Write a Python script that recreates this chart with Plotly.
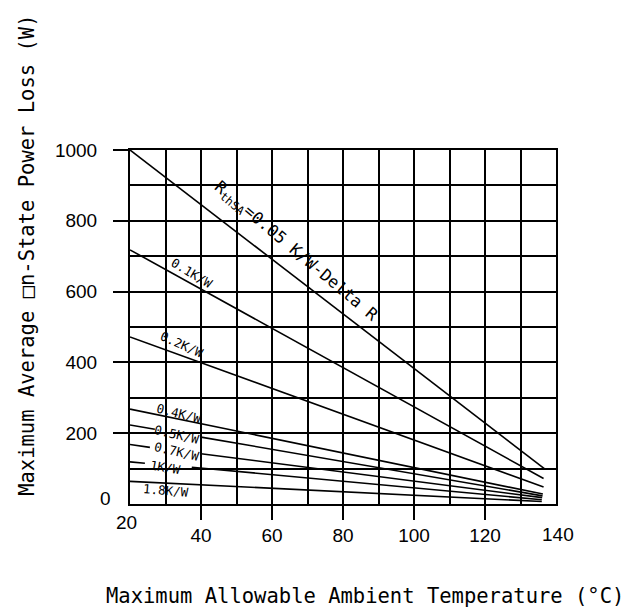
import plotly.graph_objects as go

# ---------------- data ----------------
series_names = ["0.05", "0.1", "0.2", "0.4", "0.5", "0.7", "1", "1.8"]
start_temp = [20, 20, 20, 20, 20, 20, 20, 20]
start_power = [1000, 718, 472, 268, 223, 168, 119, 64]
end_temp = [136.8, 136.5, 136.5, 136.3, 136.2, 136.1, 136.0, 136.0]
end_power = [99, 72, 48, 28, 23, 18, 12, 7]

# gaps left in the lines where labels sit (series index -> (t0, p0, t1, p1))
gap_series = [4, 5, 6]
gap_t0 = [27.0, 25.6, 24.2]
gap_p0 = [211, 160, 115]
gap_t1 = [40.0, 40.0, 37.4]
gap_p1 = [189, 142, 104]

label_texts = ["R<sub>thSA</sub>=0.05 K/W-Delta R", "0.1K/W", "0.2K/W", "0.4K/W",
               "0.5K/W", "0.7K/W", "1K/W", "1.8K/W"]
label_temp = [66.6, 37.6, 34.6, 33.8, 33.2, 33.2, 30.1, 30.1]
label_power = [712, 652, 450, 255, 196, 149, 104, 38]
label_angle = [40, 31, 24, 14, 13, 13, 10, 5]
label_size = [16.5, 12.5, 12.5, 12.5, 12.5, 12.5, 12.5, 12.5]

x_ticks = [40, 60, 80, 100, 120]
y_ticks = [200, 400, 600, 800, 1000]

x_title = "Maximum Allowable Ambient Temperature (°C)"
y_title = "Maximum Average □n-State Power Loss (W)"

CAD = "DejaVu Sans Mono, monospace"
TICK = "Liberation Sans, Arial, sans-serif"

# page body has an 8px default margin; place the plot area at screen (130,150)-(555.7,504.3)
OFF = 8
PL, PT, PW, PH = 130 - OFF, 150 - OFF, 425.7, 354.3

fig = go.Figure()

for i, name in enumerate(series_names):
    if i in gap_series:
        g = gap_series.index(i)
        xs = [start_temp[i], gap_t0[g], None, gap_t1[g], end_temp[i]]
        ys = [start_power[i], gap_p0[g], None, gap_p1[g], end_power[i]]
    else:
        xs = [start_temp[i], end_temp[i]]
        ys = [start_power[i], end_power[i]]
    fig.add_trace(go.Scatter(x=xs, y=ys, mode="lines", name=name,
                             line=dict(color="black", width=1.6),
                             connectgaps=False, showlegend=False,
                             hoverinfo="skip"))

annotations = []
for t, xv, yv, a, s in zip(label_texts, label_temp, label_power, label_angle, label_size):
    annotations.append(dict(x=xv, y=yv, xref="x", yref="y", text=t, showarrow=False,
                            xanchor="center", yanchor="middle",
                            textangle=a, font=dict(family=CAD, size=s, color="black")))

# standalone tick labels at 20 (x), 140 (x) and 0 (y)
annotations.append(dict(x=20, y=0, xref="x", yref="y", text="20", showarrow=False,
                        xanchor="center", yanchor="middle",
                        xshift=-4, yshift=-18, font=dict(family=TICK, size=19, color="black")))
annotations.append(dict(x=140, y=0, xref="x", yref="y", text="140", showarrow=False,
                        xanchor="center", yanchor="middle",
                        xshift=2, yshift=-30, font=dict(family=TICK, size=19, color="black")))
annotations.append(dict(x=20, y=0, xref="x", yref="y", text="0", showarrow=False,
                        xanchor="center", yanchor="middle",
                        xshift=-25, yshift=6, font=dict(family=TICK, size=19, color="black")))

# axis titles (screen-pixel centres converted to paper coordinates)
annotations.append(dict(x=(365 - 130) / PW, y=(504.3 - 596) / PH, xref="paper", yref="paper",
                        text=x_title, showarrow=False, xanchor="center", yanchor="middle",
                        font=dict(family=CAD, size=20.5, color="black")))
annotations.append(dict(x=(27 - 130) / PW, y=(504.3 - 255) / PH, xref="paper", yref="paper",
                        text=y_title, showarrow=False, textangle=-90,
                        xanchor="center", yanchor="middle",
                        font=dict(family=CAD, size=20.5, color="black")))

fig.update_layout(
    width=634, height=612,
    margin=dict(l=PL, r=634 - PL - PW, t=PT, b=612 - PT - PH, autoexpand=False),
    paper_bgcolor="white", plot_bgcolor="white",
    annotations=annotations,
    showlegend=False,
)

fig.update_xaxes(range=[20, 140], tickvals=x_ticks, ticks="outside", ticklen=14,
                 tickwidth=2, tickcolor="black", ticklabelstandoff=-1,
                 tickfont=dict(family=TICK, size=19, color="black"),
                 showgrid=True, gridcolor="black", gridwidth=2,
                 minor=dict(tick0=20, dtick=10, showgrid=True, gridcolor="black", gridwidth=2, ticks=""),
                 showline=True, mirror=True, linecolor="black", linewidth=2, zeroline=False)
fig.update_yaxes(range=[0, 1000], tickvals=y_ticks, ticks="outside", ticklen=15,
                 tickwidth=2, tickcolor="black", ticklabelstandoff=12,
                 tickfont=dict(family=TICK, size=19, color="black"),
                 showgrid=True, gridcolor="black", gridwidth=2,
                 minor=dict(tick0=0, dtick=100, showgrid=True, gridcolor="black", gridwidth=2, ticks=""),
                 showline=True, mirror=True, linecolor="black", linewidth=2, zeroline=False)

fig.write_html("out.html")
